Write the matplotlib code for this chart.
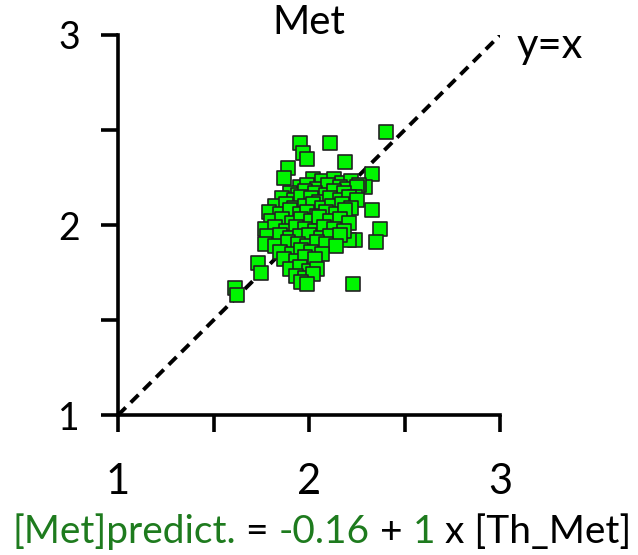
import matplotlib
matplotlib.use("Agg")
import matplotlib.pyplot as plt

plt.rcParams['font.family'] = ['Lato', 'DejaVu Sans']

# measured vs predicted Met
x_vals = [
    1.61, 1.62, 1.73, 1.75, 1.95, 1.97, 1.99, 1.89, 1.87, 2.11, 2.40, 2.19,
    2.33, 2.29, 2.23, 2.33, 2.37, 2.35, 2.24, 2.21, 2.23,
    2.02, 2.07, 2.13, 2.17, 2.22, 2.26,
    1.95, 1.99, 2.04, 2.10, 2.16, 2.20, 2.25,
    1.90, 1.94, 1.98, 2.03, 2.09, 2.13, 2.18, 2.24,
    1.86, 1.92, 1.96, 2.01, 2.05, 2.11, 2.16, 2.21, 2.25,
    1.82, 1.88, 1.92, 1.98, 2.02, 2.07, 2.12, 2.17, 2.22,
    1.79, 1.85, 1.90, 1.95, 1.99, 2.04, 2.09, 2.14, 2.19,
    1.80, 1.86, 1.91, 1.96, 2.01, 2.05, 2.11, 2.16, 2.21,
    1.77, 1.82, 1.88, 1.93, 1.98, 2.03, 2.08, 2.13, 2.18,
    1.78, 1.85, 1.90, 1.95, 2.00, 2.06, 2.11, 2.16,
    1.77, 1.82, 1.89, 1.94, 1.99, 2.04, 2.09, 2.14,
    1.85, 1.91, 1.96, 2.01, 2.07,
    1.87, 1.93, 1.98, 2.03,
    1.90, 1.95, 2.00, 2.04,
    1.93, 1.98, 2.02,
    1.96, 1.99,
]
y_vals = [
    1.67, 1.63, 1.80, 1.75, 2.43, 2.38, 2.35, 2.30, 2.25, 2.43, 2.49, 2.33,
    2.27, 2.20, 2.18, 2.08, 1.98, 1.91, 1.92, 1.92, 1.69,
    2.24, 2.23, 2.24, 2.22, 2.23, 2.21,
    2.20, 2.21, 2.19, 2.21, 2.20, 2.19, 2.20,
    2.17, 2.16, 2.18, 2.17, 2.16, 2.18, 2.17, 2.15,
    2.14, 2.13, 2.15, 2.14, 2.12, 2.14, 2.13, 2.15, 2.13,
    2.10, 2.11, 2.09, 2.10, 2.11, 2.09, 2.10, 2.11, 2.09,
    2.07, 2.06, 2.08, 2.06, 2.07, 2.05, 2.07, 2.06, 2.08,
    2.02, 2.03, 2.01, 2.03, 2.02, 2.04, 2.02, 2.03, 2.01,
    1.98, 1.99, 1.97, 1.99, 1.98, 1.97, 1.99, 1.98, 1.97,
    1.94, 1.95, 1.93, 1.94, 1.95, 1.93, 1.94, 1.95,
    1.90, 1.89, 1.91, 1.90, 1.89, 1.91, 1.90, 1.89,
    1.86, 1.85, 1.87, 1.86, 1.85,
    1.82, 1.81, 1.83, 1.82,
    1.77, 1.78, 1.76, 1.77,
    1.73, 1.72, 1.74,
    1.70, 1.69,
]
axis_lim = [1, 3]
major_ticks = [1, 2, 3]
minor_ticks = [1.5, 2.5]
green = '#1e7b1e'

fig = plt.figure(figsize=(6.38, 5.55), dpi=100)
ax = fig.add_axes([0.185, 0.252, 0.599, 0.685])

ax.plot(axis_lim, axis_lim, color='black', lw=2.8, ls=(0, (2.8, 1.8)), zorder=1)
ax.scatter(x_vals, y_vals, marker='s', s=95, facecolor='#00f500',
           edgecolor='#222222', linewidth=1.2, zorder=2, clip_on=False)

ax.set_xlim(axis_lim)
ax.set_ylim(axis_lim)
ax.set_xticks(major_ticks)
ax.set_yticks(major_ticks)
ax.set_xticks(minor_ticks, minor=True)
ax.set_yticks(minor_ticks, minor=True)
ax.spines['top'].set_visible(False)
ax.spines['right'].set_visible(False)
for s in ['left', 'bottom']:
    ax.spines[s].set_linewidth(2.6)
ax.tick_params(axis='both', which='both', direction='out', length=12.5, width=2.6)
ax.tick_params(axis='y', labelsize=27, pad=15)
ax.tick_params(axis='x', labelsize=30, pad=22)

fig.text(309 / 638, 1 - 22 / 555, 'Met', fontsize=29, ha='center', va='center')
ax.text(3.26, 2.94, 'y=x', fontsize=30, ha='center', va='center')

# regression equation, drawn piece by piece so each part gets its colour
parts = [('[Met]predict.', green), (' = ', 'black'), ('-0.16', green),
         (' + ', 'black'), ('1', green), (' x [Th_Met]', 'black')]
fig.canvas.draw()
renderer = fig.canvas.get_renderer()
texts = []
total = 0
for s, c in parts:
    t = fig.text(0, 0.042, s, color=c, fontsize=28, ha='left', va='center')
    w = t.get_window_extent(renderer).width
    texts.append((t, w))
    total += w
xpos = 322 - total / 2
for t, w in texts:
    t.set_x(xpos / fig.bbox.width)
    xpos += w

fig.savefig('out.png', dpi=100)
